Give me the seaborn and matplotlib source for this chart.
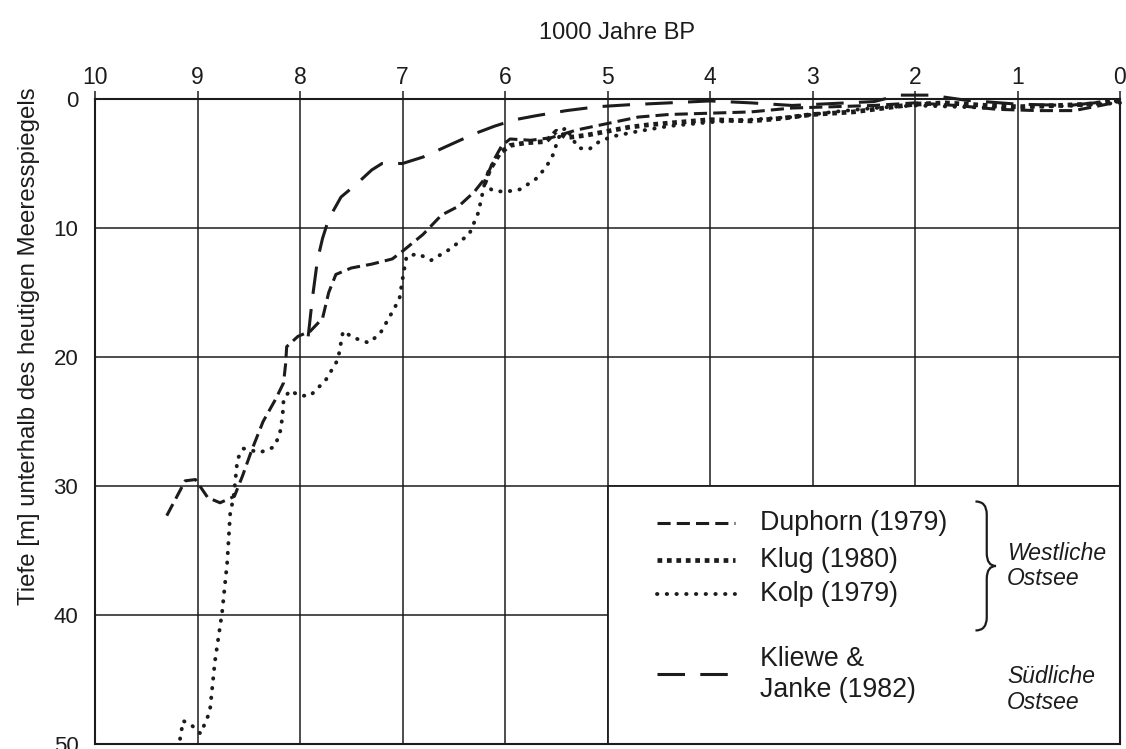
import numpy as np
import pandas as pd
import seaborn as sns
from matplotlib import pyplot as plt
from matplotlib.path import Path
from matplotlib.patches import PathPatch, Rectangle

# Daten: Alter (1000 Jahre BP) und Tiefe (m) der vier Kurven
duphorn_x = [9.3, 9.2, 9.12, 9.02, 8.9, 8.78, 8.64, 8.56, 8.47, 8.36, 8.24, 8.16, 8.14, 8.13,
             8.02, 7.9, 7.78, 7.72, 7.65, 7.5, 7.3, 7.1, 7.0, 6.8, 6.62, 6.45, 6.3, 6.18, 6.1,
             6.03, 5.95, 5.75, 5.55, 5.3, 5.0, 4.7, 4.4, 4.0, 3.6, 3.2, 2.8, 2.4, 2.0, 1.6,
             1.2, 0.8, 0.45, 0.25, 0.0]
duphorn_y = [32.3, 30.8, 29.6, 29.5, 30.9, 31.3, 30.8, 29.2, 27.2, 25.0, 23.3, 22.0, 20.5, 19.2,
             18.4, 18.0, 17.0, 15.0, 13.6, 13.1, 12.8, 12.4, 11.8, 10.5, 9.0, 8.3, 7.2, 6.0, 4.6,
             3.6, 3.1, 3.2, 3.0, 2.4, 1.9, 1.4, 1.2, 1.1, 1.0, 0.7, 0.6, 0.5, 0.3, 0.5,
             0.8, 0.9, 0.9, 0.6, 0.2]

klug_x = [6.2, 6.15, 6.05, 5.95, 5.8, 5.6, 5.5, 5.4, 5.2, 5.0, 4.8, 4.6, 4.3, 4.0, 3.6, 3.3,
          3.0, 2.6, 2.2, 2.0, 1.7, 1.3, 1.0, 0.6, 0.3, 0.0]
klug_y = [6.6, 5.5, 4.2, 3.6, 3.4, 3.3, 2.5, 3.0, 2.8, 2.5, 2.2, 2.0, 1.8, 1.6, 1.7, 1.5,
          1.2, 1.0, 0.6, 0.4, 0.3, 0.5, 0.6, 0.5, 0.4, 0.1]

kolp_x = [9.17, 9.14, 9.05, 8.97, 8.88, 8.83, 8.76, 8.71, 8.68, 8.65, 8.63, 8.61, 8.55, 8.39,
          8.26, 8.2, 8.17, 8.16, 8.1, 8.0, 7.9, 7.75, 7.63, 7.58, 7.48, 7.33, 7.22, 7.12,
          7.03, 6.99, 6.96, 6.85, 6.72, 6.55, 6.35, 6.26, 6.2, 6.12, 6.0, 5.85, 5.7, 5.6,
          5.53, 5.49, 5.45, 5.4, 5.35, 5.28, 5.18, 5.08, 4.95, 4.7, 4.4, 4.0, 3.6, 3.2, 2.8,
          2.4, 2.0, 1.6, 1.2, 0.8, 0.4, 0.0]
kolp_y = [49.6, 48.2, 48.6, 49.2, 47.5, 43.6, 39.8, 35.9, 32.0, 31.0, 29.5, 27.9, 27.1, 27.4,
          27.0, 26.1, 24.6, 23.3, 22.6, 23.0, 23.0, 21.8, 20.2, 18.0, 18.5, 18.9, 18.2, 16.8,
          15.5, 13.5, 12.2, 12.0, 12.5, 11.7, 10.5, 8.8, 6.6, 7.1, 7.2, 7.0, 6.2, 5.3,
          4.3, 3.3, 2.5, 2.2, 3.0, 3.8, 3.9, 3.3, 2.9, 2.5, 2.1, 1.8, 1.6, 1.4, 1.0,
          0.7, 0.5, 0.6, 0.7, 0.6, 0.5, 0.3]

kliewe_x = [7.92, 7.88, 7.83, 7.78, 7.72, 7.6, 7.45, 7.3, 7.2, 7.0, 6.8, 6.55, 6.3, 6.1, 5.9,
            5.7, 5.4, 5.1, 4.8, 4.4, 4.0, 3.6, 3.2, 2.8, 2.4, 2.15, 1.85, 1.5, 1.0, 0.5, 0.0]
kliewe_y = [18.4, 15.5, 12.5, 10.8, 9.3, 7.6, 6.6, 5.5, 5.0, 5.0, 4.5, 3.6, 2.7, 2.1, 1.6,
            1.3, 0.9, 0.6, 0.45, 0.3, 0.15, 0.3, 0.5, 0.35, 0.2, -0.3, -0.3, 0.1, 0.4, 0.5, 0.1]

series_labels = ["Duphorn (1979)", "Klug (1980)", "Kolp (1979)", "Kliewe &\nJanke (1982)"]

sns.set_style("white")
plt.rcParams['font.family'] = ['Liberation Sans', 'DejaVu Sans']

ink = "#1c1c1c"
fig = plt.figure(figsize=(11.26, 7.49), dpi=100)
ax = fig.add_axes([95 / 1126, 5 / 749, 1025 / 1126, 645 / 749])

# Stil je Kurve: (linienbreite, strichmuster, capstyle)
styles = [
    (2.2, (0, (4.3, 2.0)), "butt"),
    (3.4, (0, (1.0, 1.0)), "butt"),
    (2.8, (0, (0.1, 2.4)), "round"),
    (2.2, (0, (9.0, 5.0)), "butt"),
]
curves = [(duphorn_x, duphorn_y), (klug_x, klug_y), (kolp_x, kolp_y), (kliewe_x, kliewe_y)]

for (xs, ys), (lw, ls, cap) in zip(curves, styles):
    df = pd.DataFrame({"age": xs, "depth": ys})
    sns.lineplot(data=df, x="age", y="depth", sort=False, estimator=None, ax=ax,
                 color=ink, linewidth=lw, linestyle=ls, dash_capstyle=cap,
                 clip_on=False, zorder=3)

ax.set_xlim(10, 0)
ax.set_ylim(50, 0)
ax.set_xticks(range(0, 11))
ax.set_yticks(range(0, 51, 10))
ax.xaxis.tick_top()
ax.tick_params(axis="x", direction="out", length=6, width=1.1, pad=1, labelsize=16.5, colors=ink)
ax.tick_params(axis="y", direction="out", length=8, width=1.1, pad=4, labelsize=16, colors=ink)
ax.grid(True, color=ink, linewidth=1.1)
ax.set_axisbelow(True)
for sp in ax.spines.values():
    sp.set_color(ink)
    sp.set_linewidth(1.5)

ax.set_xlabel("")
ax.set_ylabel("Tiefe [m] unterhalb des heutigen Meeresspiegels", fontsize=17.3, color=ink)
ax.yaxis.set_label_coords(-0.054, 0.616)
fig.text(617 / 1126, 1 - 33 / 749, "1000 Jahre BP", ha="center", va="center", fontsize=17, color=ink)

# Legendenkasten unten rechts
ax.add_patch(Rectangle((0, 30), 5, 20, facecolor="white", edgecolor=ink, linewidth=1.3, zorder=1))

rows_y = [32.9, 35.7, 38.4, 44.6]
text_y = [32.9, 35.7, 38.4, 44.6]
for (lw, ls, cap), ry, ty, lab in zip(styles, rows_y, text_y, series_labels):
    ax.plot([4.52, 3.76], [ry, ry], color=ink, linewidth=lw, linestyle=ls, dash_capstyle=cap, zorder=4)
    ax.text(3.51, ty, lab, ha="left", va="center", fontsize=19.3, color=ink, zorder=4,
            linespacing=1.25)

# geschweifte Klammer
xl, xm, xr = 1.41, 1.30, 1.21
yt, ymid, yb = 31.2, 36.2, 41.2
verts = [(xl, yt), (xm, yt), (xm, yt + 1.0), (xm, ymid - 1.0), (xm, ymid), (xr, ymid),
         (xm, ymid), (xm, ymid + 1.0), (xm, yb - 1.0), (xm, yb), (xl, yb)]
codes = [Path.MOVETO, Path.CURVE3, Path.CURVE3, Path.LINETO, Path.CURVE3, Path.CURVE3,
         Path.CURVE3, Path.CURVE3, Path.LINETO, Path.CURVE3, Path.CURVE3]
ax.add_patch(PathPatch(Path(verts, codes), facecolor="none", edgecolor=ink, linewidth=1.6, zorder=4))

ax.text(1.10, 36.2, "Westliche\nOstsee", ha="left", va="center", fontsize=16.5, style="italic",
        color=ink, linespacing=1.15, zorder=4)
ax.text(1.10, 45.8, "Südliche\nOstsee", ha="left", va="center", fontsize=16.5, style="italic",
        color=ink, linespacing=1.15, zorder=4)

plt.savefig("out.png", dpi=100)
